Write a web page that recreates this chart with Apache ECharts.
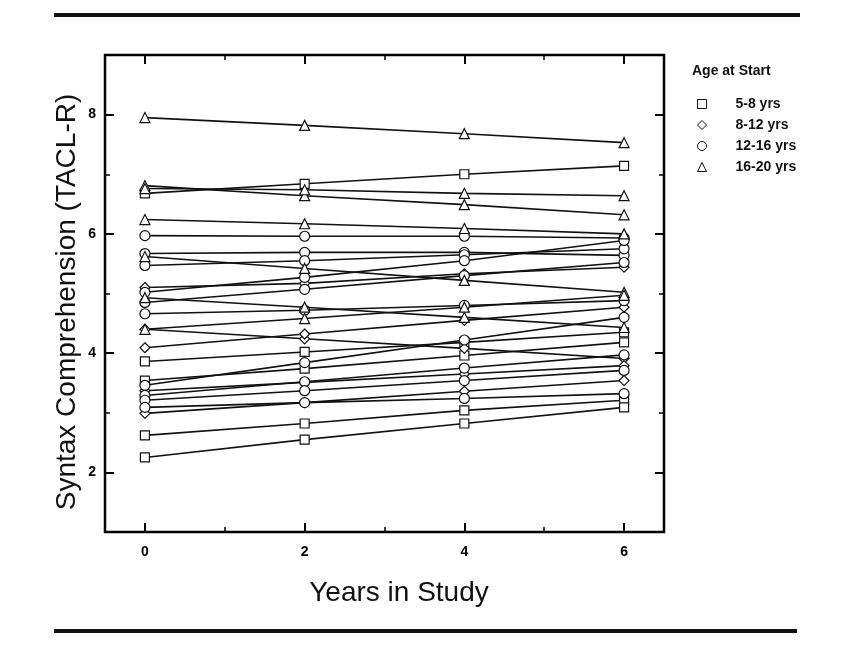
<!DOCTYPE html>
<html>
<head>
<meta charset="utf-8">
<script src="https://cdn.jsdelivr.net/npm/echarts@6/dist/echarts.min.js"></script>
<style>
  html, body { margin: 0; background: #fff; }
  #chart { width: 848px; height: 668px; }
</style>
</head>
<body>
<div id="chart"></div>
<script>
const years = [0, 2, 4, 6];
const xMajorTicks = [0, 2, 4, 6];
const xMinorTicks = [1, 3, 5];
const yMajorTicks = [2, 4, 6, 8];
const yMinorTicks = [3, 5, 7];

const groupNames = ["5-8 yrs", "8-12 yrs", "12-16 yrs", "16-20 yrs"];
const groupSymbols = ["rect", "diamond", "circle", "triangle"];
const groupSymbolSize = [9, 10, 10, 10];

// one row per child: TACL-R score at 0, 2, 4, 6 years in study
const age5to8 = [
  [6.68, 6.84, 7.00, 7.14],
  [3.86, 4.02, 4.18, 4.35],
  [3.54, 3.74, 3.96, 4.18],
  [2.62, 2.82, 3.04, 3.21],
  [2.25, 2.55, 2.82, 3.09],
];
const age8to12 = [
  [5.10, 5.17, 5.33, 5.44],
  [4.40, 4.24, 4.08, 3.91],
  [4.09, 4.32, 4.55, 4.77],
  [3.37, 3.51, 3.65, 3.79],
  [2.99, 3.17, 3.36, 3.54],
];
const age12to16 = [
  [5.97, 5.96, 5.96, 5.93],
  [5.67, 5.69, 5.69, 5.64],
  [5.47, 5.55, 5.65, 5.75],
  [5.02, 5.27, 5.55, 5.89],
  [4.85, 5.07, 5.30, 5.52],
  [4.66, 4.72, 4.80, 4.88],
  [3.46, 3.84, 4.22, 4.60],
  [3.29, 3.52, 3.75, 3.97],
  [3.21, 3.37, 3.54, 3.71],
  [3.09, 3.17, 3.24, 3.32],
];
const age16to20 = [
  [7.95, 7.82, 7.68, 7.53],
  [6.81, 6.64, 6.49, 6.32],
  [6.76, 6.74, 6.68, 6.64],
  [6.24, 6.17, 6.09, 6.00],
  [5.62, 5.42, 5.22, 5.02],
  [4.93, 4.77, 4.60, 4.43],
  [4.40, 4.58, 4.77, 4.97],
];
const groups = [age5to8, age8to12, age12to16, age16to20];

const font = "Liberation Sans, Arial, Helvetica, sans-serif";
const chart = echarts.init(document.getElementById("chart"));

const series = [];
groups.forEach((rows, g) => {
  rows.forEach((row) => {
    series.push({
      type: "line",
      name: groupNames[g],
      xAxisIndex: 0,
      yAxisIndex: 0,
      data: row.map((v, i) => [years[i], v]),
      symbol: groupSymbols[g],
      symbolSize: groupSymbolSize[g],
      showAllSymbol: true,
      lineStyle: { color: "#111", width: 1.6 },
      itemStyle: { color: "#fff", borderColor: "#111", borderWidth: 1.2 },
      emphasis: { disabled: true },
      animation: false,
    });
  });
});

function tickAxis(kind, position, values, len, width, labels) {
  const ax = {
    type: "value",
    position: position,
    min: kind === "x" ? -0.5 : 1,
    max: kind === "x" ? 6.5 : 9,
    axisLine: { show: false, onZero: false },
    splitLine: { show: false },
    axisTick: {
      show: true,
      inside: true,
      length: len,
      customValues: values,
      lineStyle: { color: "#000", width: width },
    },
    axisLabel: { show: false },
  };
  if (labels) {
    ax.axisLabel = {
      show: true,
      customValues: values,
      margin: kind === "x" ? 13 : 9,
      color: "#000",
      fontFamily: font,
      fontWeight: "bold",
      fontSize: 14,
    };
  }
  return ax;
}

const option = {
  backgroundColor: "#fff",
  animation: false,
  grid: {
    left: 105,
    top: 55,
    right: 184,
    bottom: 136,
    show: true,
    borderColor: "#000",
    borderWidth: 2.5,
    backgroundColor: "transparent",
  },
  xAxis: [
    tickAxis("x", "bottom", xMajorTicks, 9, 2, true),
    tickAxis("x", "bottom", xMinorTicks, 5, 1.5, false),
    tickAxis("x", "top", xMajorTicks, 9, 2, false),
    tickAxis("x", "top", xMinorTicks, 5, 1.5, false),
  ],
  yAxis: [
    tickAxis("y", "left", yMajorTicks, 9, 2, true),
    tickAxis("y", "left", yMinorTicks, 5, 1.5, false),
    tickAxis("y", "right", yMajorTicks, 9, 2, false),
    tickAxis("y", "right", yMinorTicks, 5, 1.5, false),
  ],
  title: {
    text: "Age at Start",
    left: 687,
    top: 59,
    textStyle: { fontFamily: font, fontSize: 14, fontWeight: "bold", color: "#111" },
  },
  legend: {
    orient: "vertical",
    left: 692,
    top: 91,
    itemWidth: 9,
    itemHeight: 9,
    itemGap: 5,
    selectedMode: false,
    data: groupNames.map((n, i) => ({ name: n, icon: groupSymbols[i] })),
    itemStyle: { color: "#fff", borderColor: "#111", borderWidth: 1 },
    lineStyle: { width: 0 },
    textStyle: {
      fontFamily: font,
      fontSize: 14,
      fontWeight: "bold",
      color: "#111",
      lineHeight: 16,
      padding: [0, 0, 0, 24],
    },
  },
  graphic: [
    {
      type: "line",
      shape: { x1: 54, y1: 15, x2: 800, y2: 15 },
      style: { stroke: "#111", lineWidth: 4 },
    },
    {
      type: "line",
      shape: { x1: 54, y1: 631, x2: 797, y2: 631 },
      style: { stroke: "#111", lineWidth: 4 },
    },
    {
      type: "text",
      x: 399,
      y: 593,
      style: {
        text: "Years in Study",
        fontFamily: font,
        fontSize: 28,
        fill: "#111",
        textAlign: "center",
        textVerticalAlign: "middle",
      },
    },
    {
      type: "text",
      x: 67,
      y: 302,
      rotation: Math.PI / 2,
      style: {
        text: "Syntax Comprehension (TACL-R)",
        fontFamily: font,
        fontSize: 28,
        fill: "#111",
        textAlign: "center",
        textVerticalAlign: "middle",
      },
    },
  ],
  series: series,
};

chart.setOption(option);
</script>
</body>
</html>
